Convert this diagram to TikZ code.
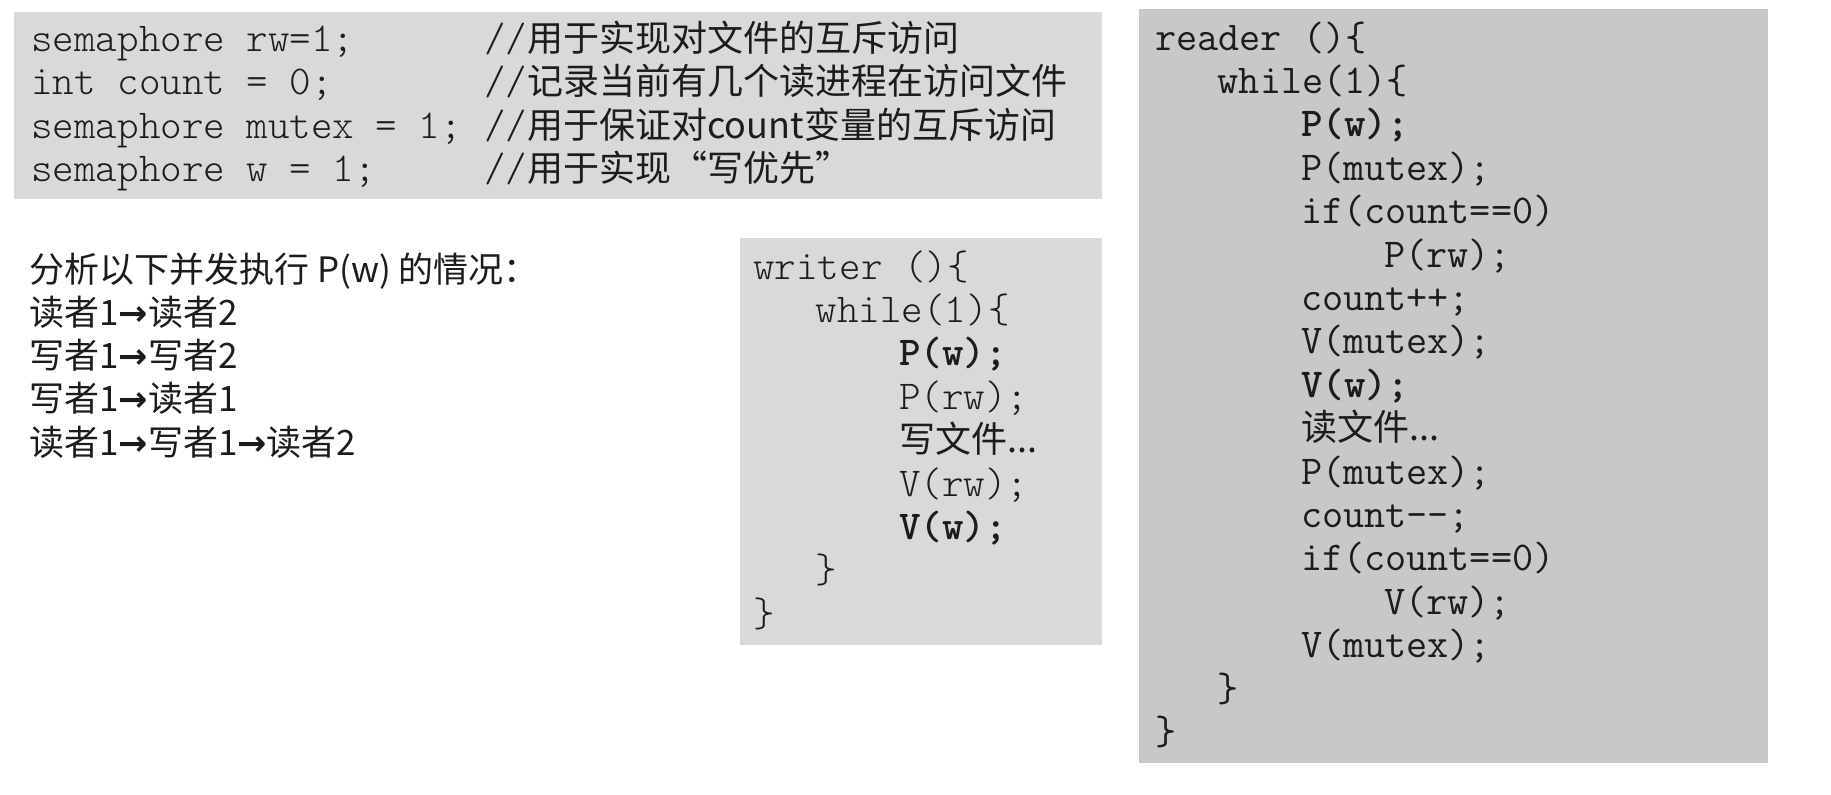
\documentclass[tikz,border=0pt]{standalone}
\usepackage{fontspec}
\newfontfamily\cjk{Noto Sans CJK SC}
\newfontfamily\arrowfont{DejaVu Sans}

\definecolor{panel}{RGB}{217,217,217}
\definecolor{panelrd}{RGB}{200,200,200}
\definecolor{ink}{RGB}{28,28,28}

\newcommand\monolight{\fontsize{20.5}{24}\ttfamily\fontseries{l}\selectfont}
\newcommand\cjkcode{\fontsize{18}{22}\cjk}
\newcommand\thenarrow{{\arrowfont\bfseries →}}

\tikzset{
  codeline/.style={anchor=base west, inner sep=0pt, text=ink, font=\monolight},
  rdline/.style={codeline, font=\fontsize{20.5}{24}\ttfamily},
  noteline/.style={anchor=base west, inner sep=0pt, text=ink, font=\fontsize{18}{22}\cjk},
}

\begin{document}
\begin{tikzpicture}[x=0.5pt,y=-0.5pt]
\useasboundingbox (0,0) rectangle (1831,794);
% grey panels
\fill[panel] (14,12) rectangle (1102,199);
\fill[panel] (740,238) rectangle (1102,645);
\fill[panelrd] (1139,9) rectangle (1768,763);
% shared variables
\foreach \code/\note [count=\i] in {semaphore rw=1;/用于实现对文件的互斥访问,
  int count = 0;/记录当前有几个读进程在访问文件,
  semaphore mutex = 1;/用于保证对count变量的互斥访问,
  semaphore w = 1;/用于实现“写优先”}
{
  \node[codeline] (decl\i) at (31,{51+43.5*(\i-1)}) {\code};
  \node[noteline] (note\i) at (484,{51+43.5*(\i-1)}) {{\monolight//}\note};
}
% cases to analyse
\foreach \txt [count=\i] in {分析以下并发执行 P(w) 的情况：,
  读者1\thenarrow 读者2, 写者1\thenarrow 写者2, 写者1\thenarrow 读者1,
  读者1\thenarrow 写者1\thenarrow 读者2}
  \node[noteline, font=\fontsize{17.5}{21}\cjk] (case\i) at (29,{282+43.3*(\i-1)}) {\txt};
% writer
\foreach \ind/\txt [count=\i] in {0/writer ()\{, 3/while(1)\{, 7/\textbf{P(w);},
  7/P(rw);, 7/{\cjkcode 写文件...}, 7/V(rw);, 7/\textbf{V(w);}, 3/\}, 0/\}}
  \node[codeline] (wr\i) at ({753+20.8*\ind},{279+43.4*(\i-1)}) {\txt};
% reader
\foreach \ind/\txt [count=\i] in {0/reader ()\{, 3/while(1)\{, 7/\textbf{P(w);},
  7/P(mutex);, 7/if(count==0), 11/P(rw);, 7/count++;, 7/V(mutex);,
  7/\textbf{V(w);}, 7/{\cjkcode 读文件...}, 7/P(mutex);, 7/count-{}-;,
  7/if(count==0), 11/V(rw);, 7/V(mutex);, 3/\}, 0/\}}
  \node[rdline] (rd\i) at ({1155+20.8*\ind},{50+43.4*(\i-1)}) {\txt};
\end{tikzpicture}
\end{document}
